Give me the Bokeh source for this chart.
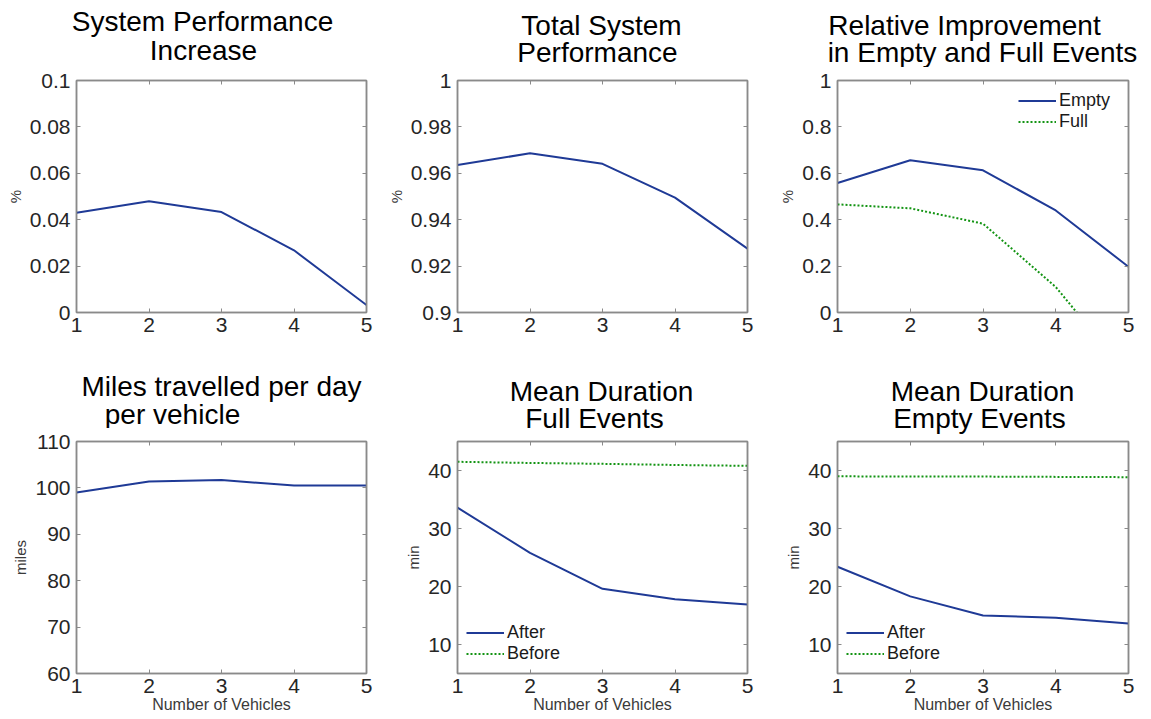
from bokeh.plotting import figure
from bokeh.models import Range1d, FixedTicker, LinearAxis, Label, CustomJSTickFormatter
from bokeh.layouts import column, row
from bokeh.embed import file_html
from bokeh.resources import INLINE

# ---------------- data ----------------
vehicles = [1, 2, 3, 4, 5]

perf_increase = [0.043, 0.048, 0.0433, 0.0268, 0.0032]
total_perf = [0.9636, 0.9686, 0.9641, 0.9495, 0.9275]
rel_empty = [0.558, 0.656, 0.613, 0.440, 0.197]
rel_full = [0.466, 0.449, 0.383, 0.110, -0.270]
miles = [99.0, 101.4, 101.7, 100.5, 100.5]
full_after = [33.6, 25.8, 19.6, 17.8, 16.9]
full_before = [41.5, 41.3, 41.15, 40.95, 40.8]
empty_after = [23.4, 18.3, 15.0, 14.6, 13.6]
empty_before = [39.0, 38.95, 38.95, 38.9, 38.85]

ticks_perf_inc = [0, 0.02, 0.04, 0.06, 0.08, 0.1]
ticks_total = [0.9, 0.92, 0.94, 0.96, 0.98, 1.0]
ticks_rel = [0, 0.2, 0.4, 0.6, 0.8, 1.0]
ticks_miles = [60, 70, 80, 90, 100, 110]
ticks_min = [10, 20, 30, 40]

title_1 = ("System Performance", "Increase")
title_2 = ("Total System", "Performance")
title_3 = ("Relative Improvement", "in Empty and Full Events")
title_4 = ("Miles travelled per day", "per vehicle")
title_5 = ("Mean Duration", "Full Events")
title_6 = ("Mean Duration", "Empty Events")

# ---------------- style / layout ----------------
FONT = "Liberation Sans"
BLUE = "#1f3a96"
GREEN = "#139413"
BOX = "#8a8a8a"
TICKTXT = "#262626"
LABTXT = "#3a3a3a"

COL_W = [384, 384, 383]
COL_X = [0, 384, 768]
BASELINE_FIX = -8.5   # compensates the renderer's baseline offset for 28px text


def style_axis(ax, ticks, standoff):
    ax.ticker = FixedTicker(ticks=ticks)
    ax.formatter = CustomJSTickFormatter(code="return Number(tick.toFixed(4)).toString();")
    ax.major_tick_in = 4
    ax.major_tick_out = 0
    ax.minor_tick_line_color = None
    ax.axis_line_color = BOX
    ax.axis_line_width = 1.5
    ax.major_tick_line_color = BOX
    ax.major_tick_line_width = 1
    ax.major_label_text_font = FONT
    ax.major_label_text_font_size = "21px"
    ax.major_label_text_color = TICKTXT
    ax.major_label_standoff = standoff


def blank_axis(ticks):
    ax = LinearAxis()
    style_axis(ax, ticks, 0)
    ax.major_label_text_font_size = "0px"
    ax.major_label_text_alpha = 0
    return ax


def title_strip(col, top, height, lines, positions):
    """Text-only strip for a two-line subplot title; positions are (centre x, baseline y) in page px."""
    width = COL_W[col]
    s = figure(width=width, height=height, x_range=Range1d(0, width), y_range=Range1d(height, 0),
               output_backend="svg", toolbar_location=None, x_axis_type=None, y_axis_type=None,
               min_border=0, min_border_left=0, min_border_right=0, min_border_top=0, min_border_bottom=0,
               background_fill_color="white", border_fill_color="white")
    s.frame_align = False
    s.outline_line_color = None
    s.grid.visible = False
    for text, (cx, base) in zip(lines, positions):
        s.add_layout(Label(x=cx - COL_X[col], y=base - top + BASELINE_FIX, text=text,
                           text_align="center", text_baseline="alphabetic",
                           text_font=FONT, text_font_size="28px", text_color="black"))
    return s


def panel(col, height, borders, yrange, yticks, ylabel, xlabel=None):
    left, right, top, bottom = borders
    p = figure(width=COL_W[col], height=height, x_range=Range1d(1, 5),
               y_range=Range1d(yrange[0], yrange[1]),
               output_backend="svg", toolbar_location=None,
               min_border_left=left, min_border_right=right,
               min_border_top=top, min_border_bottom=bottom,
               background_fill_color="white", border_fill_color="white")
    p.frame_align = False
    p.grid.visible = False
    p.outline_line_color = BOX
    p.outline_line_width = 1.5
    style_axis(p.xaxis[0], vehicles, 5)
    style_axis(p.yaxis[0], yticks, 6)
    p.yaxis[0].axis_label = ylabel
    p.yaxis[0].axis_label_text_font = FONT
    p.yaxis[0].axis_label_text_font_size = "15px"
    p.yaxis[0].axis_label_text_font_style = "normal"
    p.yaxis[0].axis_label_text_color = LABTXT
    p.yaxis[0].axis_label_standoff = 3
    if xlabel:
        p.xaxis[0].axis_label = xlabel
        p.xaxis[0].axis_label_text_font = FONT
        p.xaxis[0].axis_label_text_font_size = "16px"
        p.xaxis[0].axis_label_text_font_style = "normal"
        p.xaxis[0].axis_label_text_color = LABTXT
        p.xaxis[0].axis_label_standoff = 0
    p.add_layout(blank_axis(vehicles), "above")
    p.add_layout(blank_axis(yticks), "right")
    return p


def style_legend(p, location, margin, padding):
    lg = p.legend[0]
    lg.location = location
    lg.margin = margin
    lg.padding = padding
    lg.spacing = 0
    lg.label_height = 19
    lg.glyph_height = 19
    lg.glyph_width = 38
    lg.label_standoff = 3
    lg.label_text_font = FONT
    lg.label_text_font_size = "18px"
    lg.label_text_color = "#1a1a1a"
    lg.background_fill_alpha = 0
    lg.border_line_alpha = 0


# ---------------- column 1 ----------------
s1 = title_strip(0, 0, 67, title_1, [(202, 29), (203, 58)])
p1 = panel(0, 278, (76, 18, 13, 33), (0, 0.1), ticks_perf_inc, "%")
p1.line(vehicles, perf_increase, line_color=BLUE, line_width=2)
s4 = title_strip(0, 345, 83, title_4, [(221, 394), (172, 422)])
p4 = panel(0, 291, (76, 18, 13, 46), (60, 110), ticks_miles, "miles", xlabel="Number of Vehicles")
p4.line(vehicles, miles, line_color=BLUE, line_width=2)

# ---------------- column 2 ----------------
s2 = title_strip(1, 0, 67, title_2, [(601, 33), (597, 60.5)])
p2 = panel(1, 278, (73, 21, 13, 33), (0.9, 1.0), ticks_total, "%")
p2.line(vehicles, total_perf, line_color=BLUE, line_width=2)
s5 = title_strip(1, 345, 90, title_5, [(601, 399), (594, 426.5)])
p5 = panel(1, 284, (73, 21, 6, 46), (5, 45), ticks_min, "min", xlabel="Number of Vehicles")
p5.line(vehicles, full_after, line_color=BLUE, line_width=2, legend_label="After")
p5.line(vehicles, full_before, line_color=GREEN, line_width=2, line_dash="2 2", legend_label="Before")
style_legend(p5, "bottom_left", 3, 6)

# ---------------- column 3 ----------------
s3 = title_strip(2, 0, 67, title_3, [(964, 33), (982, 60.5)])
p3 = panel(2, 278, (69, 23, 13, 33), (0, 1), ticks_rel, "%")
p3.line(vehicles, rel_empty, line_color=BLUE, line_width=2, legend_label="Empty")
p3.line(vehicles, rel_full, line_color=GREEN, line_width=2, line_dash="2 2", legend_label="Full")
style_legend(p3, (175, 174), 0, 6)
s6 = title_strip(2, 345, 90, title_6, [(982, 399), (979, 426)])
p6 = panel(2, 284, (69, 23, 6, 46), (5, 45), ticks_min, "min", xlabel="Number of Vehicles")
p6.line(vehicles, empty_after, line_color=BLUE, line_width=2, legend_label="After")
p6.line(vehicles, empty_before, line_color=GREEN, line_width=2, line_dash="2 2", legend_label="Before")
style_legend(p6, "bottom_left", 3, 6)

layout = row(column(s1, p1, s4, p4), column(s2, p2, s5, p5), column(s3, p3, s6, p6))

open("out.html", "w").write(file_html(layout, INLINE))
